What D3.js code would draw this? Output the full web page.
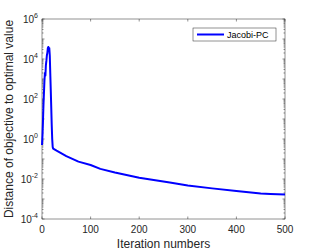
<!DOCTYPE html>
<html>
<head>
<meta charset="utf-8">
<script src="https://cdn.jsdelivr.net/npm/d3@7"></script>
<style>
body { margin: 0; background: #fff; }
text { font-family: "Liberation Sans", Arial, sans-serif; }
</style>
</head>
<body>
<script>
// data
var iterations = [0, 1, 2, 3, 4, 5, 6, 7, 8, 9, 10, 11, 12, 13, 14, 15, 16, 17, 18, 19, 20, 21, 22, 23,
    30, 50, 75, 100, 120, 150, 200, 263, 300, 350, 400, 450, 470, 500];
var distance = [0.5, 1.5, 8, 50, 200, 800, 2000, 1500, 5000, 8000, 15000, 20000, 35000, 40000, 30000, 35000, 15000, 2000, 300, 40, 5, 1, 0.4, 0.33,
    0.26, 0.14, 0.074, 0.05, 0.032, 0.021, 0.0115, 0.0066, 0.0047, 0.0034, 0.0025, 0.0019, 0.0018, 0.0017];
var xTicks = [0, 100, 200, 300, 400, 500];
var yTickExp = [-4, -2, 0, 2, 4, 6];
var seriesName = "Jacobi-PC";

var svgWidth = 315, svgHeight = 252;
var margin = { top: 19, right: 30, bottom: 33, left: 42 };
var chartWidth = svgWidth - margin.left - margin.right;
var chartHeight = svgHeight - margin.top - margin.bottom;

var svg = d3.select("body").append("svg")
    .attr("width", svgWidth)
    .attr("height", svgHeight);

var chartGroup = svg.append("g")
    .attr("transform", `translate(${margin.left}, ${margin.top})`);

var xScale = d3.scaleLinear().domain([0, 500]).range([0, chartWidth]);
var yScale = d3.scaleLog().domain([1e-4, 1e6]).range([chartHeight, 0]);

var axisColor = "#262626";
var tickLen = 2.5;

// minor log ticks (left and right)
var minor = [];
for (var e = -4; e < 6; e++) {
    for (var m = 2; m <= 9; m++) minor.push(m * Math.pow(10, e));
}
var majorAll = d3.range(-4, 7).map(e => Math.pow(10, e));

[0, chartWidth].forEach(function (xx, i) {
    var dir = i === 0 ? 1 : -1;
    chartGroup.selectAll(null).data(minor).enter().append("line")
        .attr("x1", xx).attr("x2", xx + dir * 1.5)
        .attr("y1", d => yScale(d)).attr("y2", d => yScale(d))
        .attr("stroke", axisColor).attr("stroke-width", 0.5);
    chartGroup.selectAll(null).data(majorAll).enter().append("line")
        .attr("x1", xx).attr("x2", xx + dir * tickLen)
        .attr("y1", d => yScale(d)).attr("y2", d => yScale(d))
        .attr("stroke", axisColor).attr("stroke-width", 0.5);
});

// x ticks top and bottom
[0, chartHeight].forEach(function (yy, i) {
    var dir = i === 0 ? 1 : -1;
    chartGroup.selectAll(null).data(xTicks).enter().append("line")
        .attr("x1", d => xScale(d)).attr("x2", d => xScale(d))
        .attr("y1", yy).attr("y2", yy + dir * tickLen)
        .attr("stroke", axisColor).attr("stroke-width", 0.5);
});

// box
chartGroup.append("rect")
    .attr("x", 0).attr("y", 0)
    .attr("width", chartWidth).attr("height", chartHeight)
    .attr("fill", "none").attr("stroke", axisColor).attr("stroke-width", 0.5);

// x tick labels
chartGroup.selectAll(null).data(xTicks).enter().append("text")
    .attr("x", d => xScale(d)).attr("y", chartHeight + 14)
    .attr("text-anchor", "middle")
    .attr("font-size", 10).attr("fill", axisColor)
    .text(d => d);

// y tick labels 10^n
var yl = chartGroup.selectAll(null).data(yTickExp).enter().append("text")
    .attr("x", -4).attr("y", d => yScale(Math.pow(10, d)) + 4)
    .attr("text-anchor", "end")
    .attr("font-size", 10).attr("fill", axisColor);
yl.append("tspan").text("10");
yl.append("tspan").attr("dy", -5).attr("font-size", 7).text(d => d);

// axis titles
svg.append("text")
    .attr("x", margin.left + chartWidth / 2).attr("y", 248)
    .attr("text-anchor", "middle").attr("font-size", 12).attr("fill", axisColor)
    .text("Iteration numbers");
svg.append("text")
    .attr("transform", `translate(13, ${margin.top + chartHeight / 2}) rotate(-90)`)
    .attr("text-anchor", "middle").attr("font-size", 12).attr("fill", axisColor)
    .text("Distance of objective to optimal value");

// series line
var line = d3.line()
    .x((d, i) => xScale(iterations[i]))
    .y(d => yScale(d));
chartGroup.append("path")
    .datum(distance)
    .attr("d", line)
    .attr("fill", "none")
    .attr("stroke", "#0000ff")
    .attr("stroke-width", 2)
    .attr("stroke-linejoin", "round");

// legend
var legend = svg.append("g").attr("transform", "translate(193, 28)");
legend.append("rect")
    .attr("width", 83).attr("height", 13)
    .attr("fill", "#fff").attr("stroke", axisColor).attr("stroke-width", 0.5);
legend.append("line")
    .attr("x1", 4).attr("x2", 31).attr("y1", 6.5).attr("y2", 6.5)
    .attr("stroke", "#0000ff").attr("stroke-width", 2);
legend.append("text")
    .attr("x", 34).attr("y", 10)
    .attr("font-size", 9).attr("fill", "#000")
    .text(seriesName);
</script>
</body>
</html>
